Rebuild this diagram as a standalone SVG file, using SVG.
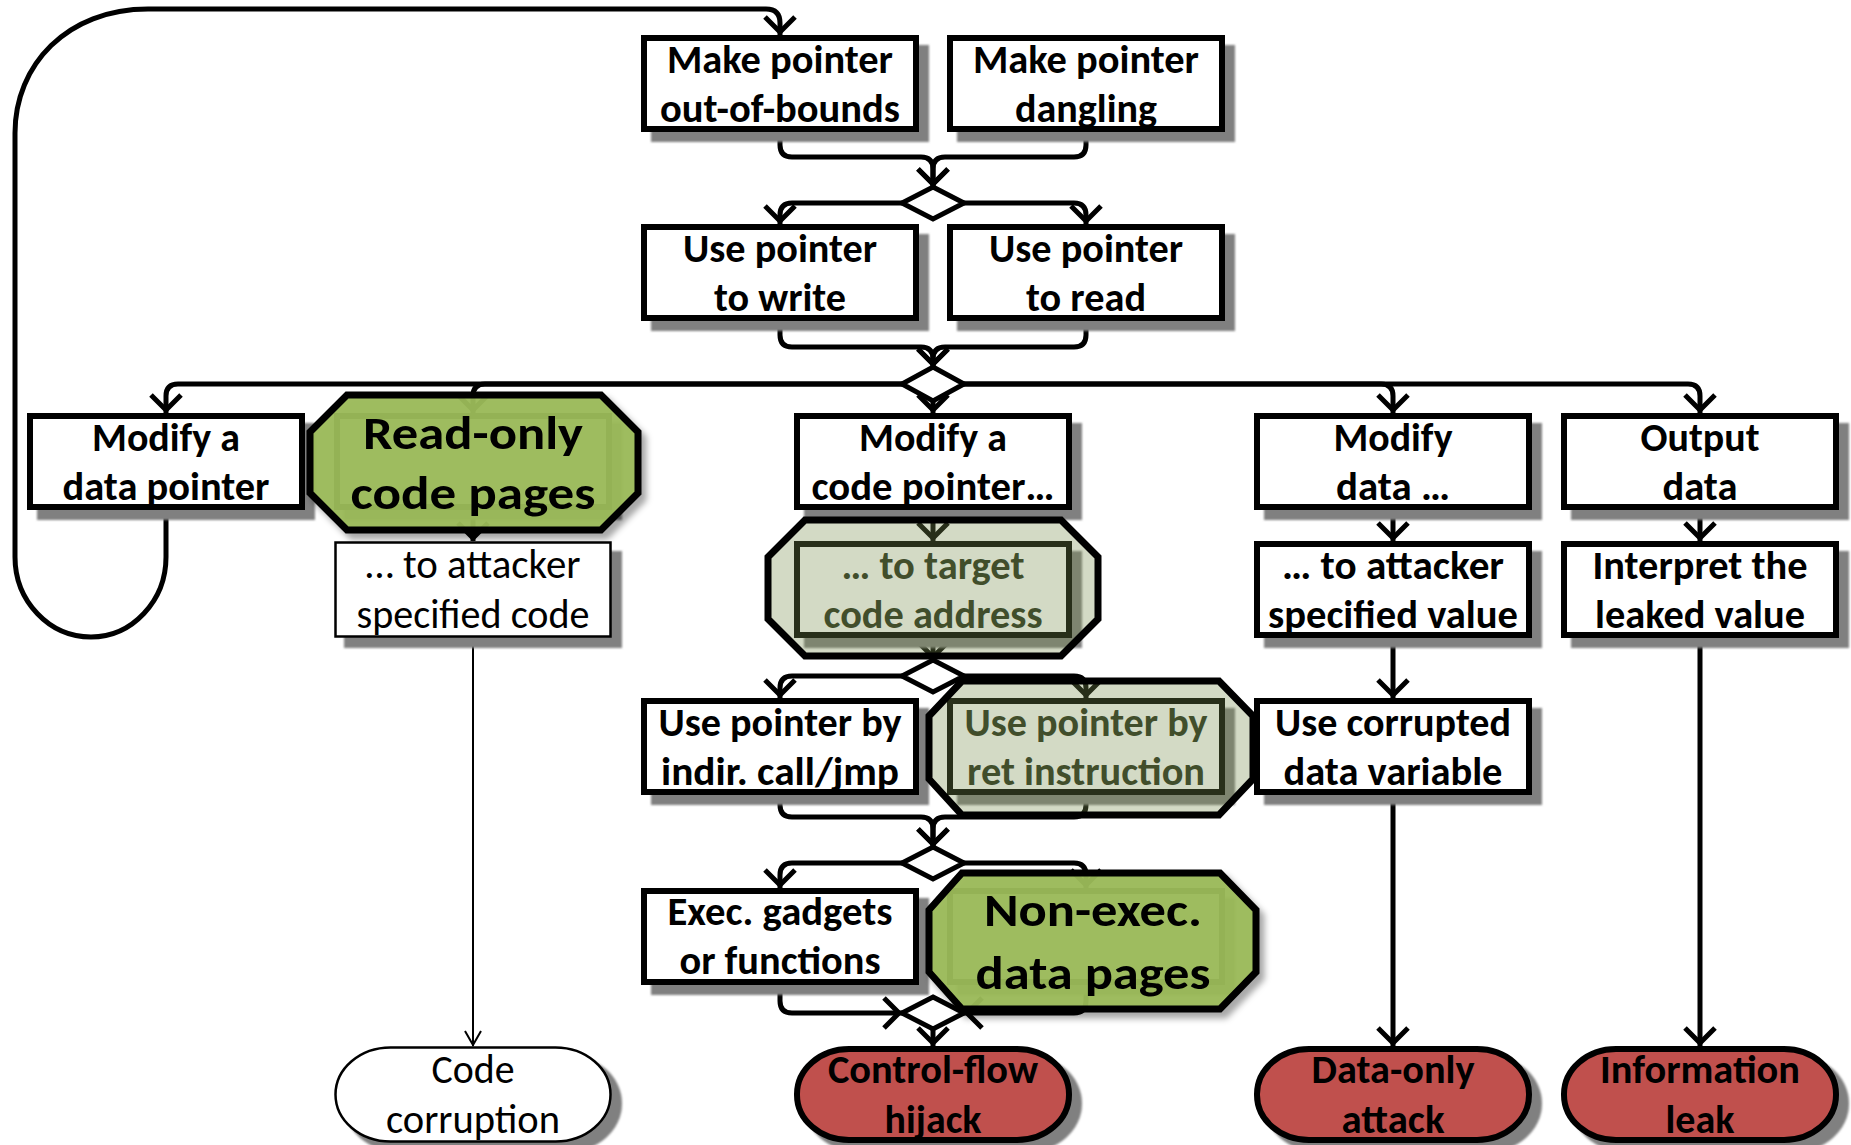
<svg xmlns="http://www.w3.org/2000/svg" width="1851" height="1145" viewBox="0 0 1851 1145">
<defs>
<style>
.t{font-family:Carlito,Lato,"Liberation Sans",sans-serif;font-size:40px;font-weight:bold;text-anchor:middle;fill:#000}
.r{font-weight:normal}
.big{font-size:46px}
.dk{fill:#262F1A}
.box{fill:#fff;stroke:#000;stroke-width:6}
.thin{fill:#fff;stroke:#000;stroke-width:2.5}
.sh{fill:#808080;filter:url(#blur)}
.term{fill:#C0504D;stroke:#000;stroke-width:6}
.dia{fill:#fff;stroke:#000;stroke-width:5;stroke-linejoin:miter}
.c{fill:none;stroke:#000;stroke-width:5;marker-end:url(#arr)}
.ct{fill:none;stroke:#000;stroke-width:2;marker-end:url(#arrt)}
.oct{fill:#9BBB59;fill-opacity:0.94;stroke:#000;stroke-width:7;stroke-linejoin:miter;filter:url(#ds)}
.octl{fill:#78904E;fill-opacity:0.33;stroke:#000;stroke-width:7;stroke-linejoin:miter}
</style>
<filter id="blur" x="-5%" y="-5%" width="110%" height="110%"><feGaussianBlur stdDeviation="1.2"/></filter>
<filter id="ds" x="-10%" y="-10%" width="125%" height="130%"><feDropShadow dx="5" dy="6" stdDeviation="3" flood-color="#000" flood-opacity="0.35"/></filter>
<marker id="arr" markerUnits="userSpaceOnUse" viewBox="-20 -20 40 40" markerWidth="40" markerHeight="40" refX="3" refY="0" orient="auto" overflow="visible"><path d="M-15,-15 L0,0 L-15,15" fill="none" stroke="#000" stroke-width="5"/></marker>
<marker id="arrt" markerUnits="userSpaceOnUse" viewBox="-20 -20 40 40" markerWidth="40" markerHeight="40" refX="1" refY="0" orient="auto" overflow="visible"><path d="M-14,-8 L0,0 L-14,8" fill="none" stroke="#000" stroke-width="2"/></marker>
</defs>
<rect width="1851" height="1145" fill="#fff"/>

<g id="connectors">
<path class="c" d="M166,510 V557 C166,601 132,637 91,637 C49,637 15,601 15,557 V133 C15,65 67,9 148,9 H766 Q780,9 780,23 V35"/>
<path class="c" d="M780,132 V145 Q780,157 792,157 H921 Q933,157 933,169 V187"/>
<path class="c" d="M1086,132 V145 Q1086,157 1074,157 H945 Q933,157 933,169 V187"/>
<path class="c" d="M902,203 H792 Q780,203 780,215 V224"/>
<path class="c" d="M964,203 H1074 Q1086,203 1086,215 V224"/>
<path class="c" d="M780,321 V335 Q780,347 792,347 H921 Q933,347 933,359 V367"/>
<path class="c" d="M1086,321 V335 Q1086,347 1074,347 H945 Q933,347 933,359 V367"/>
<path class="c" d="M902,384 H178 Q166,384 166,396 V413"/>
<path class="c" d="M902,384 H485 Q473,384 473,396 V413"/>
<path class="c" d="M933,401 V413"/>
<path class="c" d="M964,384 H1381 Q1393,384 1393,396 V413"/>
<path class="c" d="M964,384 H1688 Q1700,384 1700,396 V413"/>
<path class="c" d="M473,510 V541"/>
<path class="c" d="M933,510 V541"/>
<path class="c" d="M1393,510 V541"/>
<path class="c" d="M1700,510 V541"/>
<path class="ct" d="M473,638 V1046"/>
<path class="c" d="M933,638 V660"/>
<path class="c" d="M902,676 H792 Q780,676 780,688 V698"/>
<path class="c" d="M964,676 H1074 Q1086,676 1086,688 V698"/>
<path class="c" d="M1393,638 V698"/>
<path class="c" d="M1700,638 V1046"/>
<path class="c" d="M780,795 V805 Q780,817 792,817 H921 Q933,817 933,829 V847"/>
<path class="c" d="M1086,795 V805 Q1086,817 1074,817 H945 Q933,817 933,829 V847"/>
<path class="c" d="M902,863 H792 Q780,863 780,875 V888"/>
<path class="c" d="M964,863 H1074 Q1086,863 1086,875 V888"/>
<path class="c" d="M1393,795 V1046"/>
<path class="c" d="M780,985 V1001 Q780,1013 792,1013 H902"/>
<path class="c" d="M1086,985 V1001 Q1086,1013 1074,1013 H964"/>
<path class="c" d="M933,1029 V1046"/>
</g>

<g id="d1"><path class="dia" d="M933,187 L964,203 L933,219 L902,203 Z"/></g>
<g id="d2"><path class="dia" d="M933,367 L964,384 L933,401 L902,384 Z"/></g>
<g id="d3"><path class="dia" d="M933,660 L964,676 L933,692 L902,676 Z"/></g>
<g id="d4"><path class="dia" d="M933,847 L964,863 L933,879 L902,863 Z"/></g>
<g id="d5"><path class="dia" d="M933,997 L964,1013 L933,1029 L902,1013 Z"/></g>

<g id="n-oob">
<rect class="sh" x="651" y="45" width="278" height="97"/>
<rect class="box" x="644" y="38" width="272" height="91"/>
<text class="t" x="780" y="73" textLength="226" lengthAdjust="spacingAndGlyphs">Make pointer</text>
<text class="t" x="780" y="122" textLength="240" lengthAdjust="spacingAndGlyphs">out-of-bounds</text>
</g>
<g id="n-dangling">
<rect class="sh" x="957" y="45" width="278" height="97"/>
<rect class="box" x="950" y="38" width="272" height="91"/>
<text class="t" x="1086" y="73" textLength="226" lengthAdjust="spacingAndGlyphs">Make pointer</text>
<text class="t" x="1086" y="122" textLength="142" lengthAdjust="spacingAndGlyphs">dangling</text>
</g>
<g id="n-write">
<rect class="sh" x="651" y="234" width="278" height="97"/>
<rect class="box" x="644" y="227" width="272" height="91"/>
<text class="t" x="780" y="262" textLength="194" lengthAdjust="spacingAndGlyphs">Use pointer</text>
<text class="t" x="780" y="311" textLength="132" lengthAdjust="spacingAndGlyphs">to write</text>
</g>
<g id="n-read">
<rect class="sh" x="957" y="234" width="278" height="97"/>
<rect class="box" x="950" y="227" width="272" height="91"/>
<text class="t" x="1086" y="262" textLength="194" lengthAdjust="spacingAndGlyphs">Use pointer</text>
<text class="t" x="1086" y="311" textLength="120" lengthAdjust="spacingAndGlyphs">to read</text>
</g>
<g id="n-datapointer">
<rect class="sh" x="37" y="423" width="278" height="97"/>
<rect class="box" x="30" y="416" width="272" height="91"/>
<text class="t" x="166" y="451" textLength="148" lengthAdjust="spacingAndGlyphs">Modify a</text>
<text class="t" x="166" y="500" textLength="207" lengthAdjust="spacingAndGlyphs">data pointer</text>
</g>
<g id="n-readonly">
<rect class="sh" x="344" y="423" width="278" height="97"/>
<rect class="box" x="337" y="416" width="272" height="91"/>
<path class="oct" d="M347,395 H601 L638,432 V493 L601,530 H347 L310,493 V432 Z"/>
<text class="t big" x="473" y="449" textLength="220" lengthAdjust="spacingAndGlyphs">Read-only</text>
<text class="t big" x="473" y="509" textLength="245" lengthAdjust="spacingAndGlyphs">code pages</text>
</g>
<g id="n-codepointer">
<rect class="sh" x="804" y="423" width="278" height="97"/>
<rect class="box" x="797" y="416" width="272" height="91"/>
<text class="t" x="933" y="451" textLength="148" lengthAdjust="spacingAndGlyphs">Modify a</text>
<text class="t" x="933" y="500" textLength="243" lengthAdjust="spacingAndGlyphs">code pointer…</text>
</g>
<g id="n-modifydata">
<rect class="sh" x="1264" y="423" width="278" height="97"/>
<rect class="box" x="1257" y="416" width="272" height="91"/>
<text class="t" x="1393" y="451" textLength="119" lengthAdjust="spacingAndGlyphs">Modify</text>
<text class="t" x="1393" y="500" textLength="114" lengthAdjust="spacingAndGlyphs">data …</text>
</g>
<g id="n-output">
<rect class="sh" x="1571" y="423" width="278" height="97"/>
<rect class="box" x="1564" y="416" width="272" height="91"/>
<text class="t" x="1700" y="451" textLength="119" lengthAdjust="spacingAndGlyphs">Output</text>
<text class="t" x="1700" y="500" textLength="75" lengthAdjust="spacingAndGlyphs">data</text>
</g>
<g id="n-speccode">
<rect class="sh" x="344" y="551" width="278" height="97"/>
<rect class="thin" x="335.5" y="542.5" width="275" height="94"/>
<text class="t r" x="473" y="578" textLength="215" lengthAdjust="spacingAndGlyphs">… to attacker</text>
<text class="t r" x="473" y="628" textLength="233" lengthAdjust="spacingAndGlyphs">specified code</text>
</g>
<g id="n-target">
<rect class="sh" x="804" y="551" width="278" height="97"/>
<rect class="box" x="797" y="544" width="272" height="91"/>
<text class="t dk" x="933" y="579" textLength="183" lengthAdjust="spacingAndGlyphs">… to target</text>
<text class="t dk" x="933" y="628" textLength="219" lengthAdjust="spacingAndGlyphs">code address</text>
<path class="octl" d="M805,520 H1061 L1098,557 V619 L1061,656 H805 L768,619 V557 Z"/>
</g>
<g id="n-specvalue">
<rect class="sh" x="1264" y="551" width="278" height="97"/>
<rect class="box" x="1257" y="544" width="272" height="91"/>
<text class="t" x="1393" y="579" textLength="222" lengthAdjust="spacingAndGlyphs">… to attacker</text>
<text class="t" x="1393" y="628" textLength="250" lengthAdjust="spacingAndGlyphs">specified value</text>
</g>
<g id="n-interpret">
<rect class="sh" x="1571" y="551" width="278" height="97"/>
<rect class="box" x="1564" y="544" width="272" height="91"/>
<text class="t" x="1700" y="579" textLength="215" lengthAdjust="spacingAndGlyphs">Interpret the</text>
<text class="t" x="1700" y="628" textLength="210" lengthAdjust="spacingAndGlyphs">leaked value</text>
</g>
<g id="n-indir">
<rect class="sh" x="651" y="708" width="278" height="97"/>
<rect class="box" x="644" y="701" width="272" height="91"/>
<text class="t" x="780" y="736" textLength="243" lengthAdjust="spacingAndGlyphs">Use pointer by</text>
<text class="t" x="780" y="785" textLength="238" lengthAdjust="spacingAndGlyphs">indir. call/jmp</text>
</g>
<g id="n-ret">
<rect class="sh" x="957" y="708" width="278" height="97"/>
<rect class="box" x="950" y="701" width="272" height="91"/>
<text class="t dk" x="1086" y="736" textLength="243" lengthAdjust="spacingAndGlyphs">Use pointer by</text>
<text class="t dk" x="1086" y="785" textLength="238" lengthAdjust="spacingAndGlyphs">ret instruction</text>
<path class="octl" d="M962,681 H1219 L1253,716 V779 L1219,815 H962 L929,779 V716 Z"/>
</g>
<g id="n-corrupted">
<rect class="sh" x="1264" y="708" width="278" height="97"/>
<rect class="box" x="1257" y="701" width="272" height="91"/>
<text class="t" x="1393" y="736" textLength="236" lengthAdjust="spacingAndGlyphs">Use corrupted</text>
<text class="t" x="1393" y="785" textLength="219" lengthAdjust="spacingAndGlyphs">data variable</text>
</g>
<g id="n-gadgets">
<rect class="sh" x="651" y="898" width="278" height="97"/>
<rect class="box" x="644" y="891" width="272" height="91"/>
<text class="t" x="780" y="925" textLength="225" lengthAdjust="spacingAndGlyphs">Exec. gadgets</text>
<text class="t" x="780" y="974" textLength="201" lengthAdjust="spacingAndGlyphs">or functions</text>
</g>
<g id="n-nonexec">
<rect class="sh" x="957" y="898" width="278" height="97"/>
<rect class="box" x="950" y="891" width="272" height="91"/>
<path class="oct" d="M962,873 H1220 L1256,910 V972 L1220,1009 H962 L929,972 V910 Z"/>
<text class="t big" x="1093" y="926" textLength="218" lengthAdjust="spacingAndGlyphs">Non-exec.</text>
<text class="t big" x="1093" y="989" textLength="235" lengthAdjust="spacingAndGlyphs">data pages</text>
</g>
<g id="n-codecorruption">
<rect class="sh" x="344" y="1055" width="278" height="97" rx="55" ry="48"/>
<rect class="thin" x="335.5" y="1047.5" width="275" height="94" rx="55" ry="47"/>
<text class="t r" x="473" y="1083" textLength="83" lengthAdjust="spacingAndGlyphs">Code</text>
<text class="t r" x="473" y="1133" textLength="174" lengthAdjust="spacingAndGlyphs">corruption</text>
</g>
<g id="n-cfh">
<rect class="sh" x="804" y="1055" width="278" height="97" rx="55" ry="48"/>
<rect class="term" x="797" y="1049" width="272" height="91" rx="52" ry="45"/>
<text class="t" x="933" y="1083" textLength="210" lengthAdjust="spacingAndGlyphs">Control-flow</text>
<text class="t" x="933" y="1133" textLength="97" lengthAdjust="spacingAndGlyphs">hijack</text>
</g>
<g id="n-dataonly">
<rect class="sh" x="1264" y="1055" width="278" height="97" rx="55" ry="48"/>
<rect class="term" x="1257" y="1049" width="272" height="91" rx="52" ry="45"/>
<text class="t" x="1393" y="1083" textLength="163" lengthAdjust="spacingAndGlyphs">Data-only</text>
<text class="t" x="1393" y="1133" textLength="103" lengthAdjust="spacingAndGlyphs">attack</text>
</g>
<g id="n-leak">
<rect class="sh" x="1571" y="1055" width="278" height="97" rx="55" ry="48"/>
<rect class="term" x="1564" y="1049" width="272" height="91" rx="52" ry="45"/>
<text class="t" x="1700" y="1083" textLength="200" lengthAdjust="spacingAndGlyphs">Information</text>
<text class="t" x="1700" y="1133" textLength="69" lengthAdjust="spacingAndGlyphs">leak</text>
</g>
</svg>
